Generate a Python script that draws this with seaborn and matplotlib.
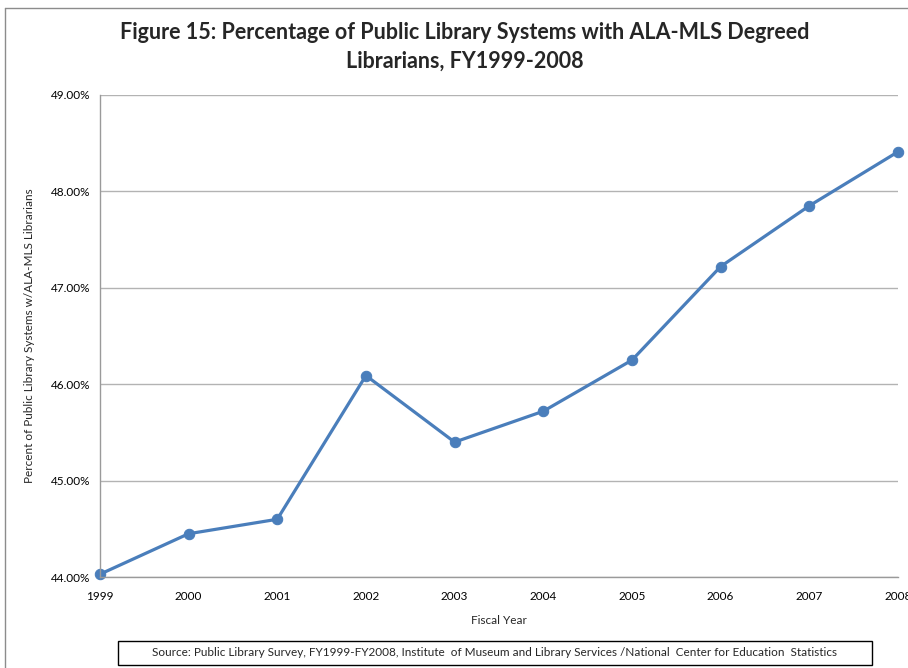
import numpy as np
import pandas as pd
import seaborn as sns
import matplotlib.pyplot as plt
from matplotlib.lines import Line2D
from matplotlib.patches import Rectangle

# Data
years = [1999, 2000, 2001, 2002, 2003, 2004, 2005, 2006, 2007, 2008]
pct_mls = [44.03, 44.45, 44.60, 46.09, 45.40, 45.72, 46.25, 47.22, 47.85, 48.41]
y_ticks = [44, 45, 46, 47, 48, 49]

df = pd.DataFrame({'year': years, 'pct': pct_mls})

sns.set_style('white')
plt.rcParams['font.family'] = ['Lato', 'DejaVu Sans']

fig = plt.figure(figsize=(9.08, 6.68), dpi=100)
ax = fig.add_axes([0.110, 0.136, 0.879, 0.722])

line_color = '#4A7EBB'
sns.lineplot(data=df, x='year', y='pct', ax=ax, color=line_color, linewidth=2.3,
             marker='o', markersize=7.5, markeredgecolor=line_color, clip_on=False)

ax.set_xlim(years[0], years[-1])
ax.set_ylim(y_ticks[0], y_ticks[-1])
ax.set_xticks(years)
ax.set_xticklabels([str(y) for y in years], fontsize=8.5)
ax.set_yticks(y_ticks)
ax.set_yticklabels([f'{v:.2f}%' for v in y_ticks], fontsize=8.5)

ax.yaxis.grid(True, color='#b3b3b3', linewidth=1)
ax.xaxis.grid(False)
for side in ['top', 'right']:
    ax.spines[side].set_visible(False)
for side in ['left', 'bottom']:
    ax.spines[side].set_color('#9a9a9a')
    ax.spines[side].set_linewidth(1)
ax.tick_params(axis='both', which='major', direction='out', length=4,
               color='#9a9a9a', width=1, pad=3, labelcolor='black')
ax.tick_params(axis='x', pad=6)

ax.set_xlabel('Fiscal Year', fontsize=8.5, labelpad=9)
ax.set_ylabel('Percent of Public Library Systems w/ALA-MLS Librarians', fontsize=8.5,
              labelpad=11)

fig.text(0.512, 0.952, 'Figure 15: Percentage of Public Library Systems with ALA-MLS Degreed',
         ha='center', va='center', fontsize=15.5, fontweight='bold')
fig.text(0.512, 0.908, 'Librarians, FY1999-2008',
         ha='center', va='center', fontsize=15.5, fontweight='bold')

# source box
fig.patches.append(Rectangle((118 / 908, 1 - 665 / 668), (872 - 118) / 908, 24 / 668,
                             transform=fig.transFigure, fill=False,
                             edgecolor='black', linewidth=1))
fig.text(495 / 908, 1 - 653 / 668,
         'Source: Public Library Survey, FY1999-FY2008, Institute  of Museum and Library Services /National  Center for Education  Statistics',
         ha='center', va='center', fontsize=8.5)

# outer chart frame (left and top edges visible in the crop)
fig.add_artist(Line2D([5 / 908, 5 / 908], [0, 1 - 8 / 668], transform=fig.transFigure,
                      color='#8c8c8c', linewidth=1))
fig.add_artist(Line2D([5 / 908, 1], [1 - 8 / 668, 1 - 8 / 668], transform=fig.transFigure,
                      color='#8c8c8c', linewidth=1))

fig.savefig('out.png', dpi=100)
